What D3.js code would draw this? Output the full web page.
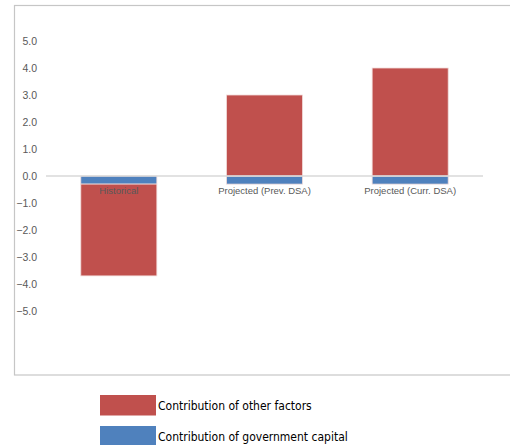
<!DOCTYPE html>
<html>
<head>
<meta charset="utf-8">
<script src="https://cdn.jsdelivr.net/npm/d3@7/dist/d3.min.js"></script>
<style>
  html, body { margin: 0; padding: 0; background: #fff; }
  svg { display: block; }
  text { font-family: "Liberation Sans Narrow", "Arial Narrow", "DejaVu Sans Condensed", sans-serif; }
</style>
</head>
<body>
<svg id="chart" width="510" height="445"></svg>
<script>
const categories = ["Historical", "Projected (Prev. DSA)", "Projected (Curr. DSA)"];
const seriesNames = ["Contribution of government capital", "Contribution of other factors"];
const govCapital = [-0.3, -0.3, -0.3];
const otherFactors = [-3.4, 3.0, 4.0];
const yTicks = [-5, -4, -3, -2, -1, 0, 1, 2, 3, 4, 5];
const colors = ["#4F81BD", "#C0504D"];

const svg = d3.select("#chart");

// frame
svg.append("rect")
  .attr("x", 14.5).attr("y", 5.5)
  .attr("width", 500).attr("height", 369.5)
  .attr("fill", "none").attr("stroke", "#c6c6c6").attr("stroke-width", 1.2);

const x = d3.scaleBand().domain(categories).range([46, 483])
  .paddingInner(0.478).paddingOuter(0.239);
const y = d3.scaleLinear().domain([-5, 5]).range([311, 41]);

const rows = categories.map((c, i) => ({ cat: c, gov: govCapital[i], other: otherFactors[i] }));
const stack = d3.stack().keys(["gov", "other"]).offset(d3.stackOffsetDiverging);
const stacked = stack(rows);

// y tick labels
const yAxis = d3.axisLeft(y).tickValues(yTicks).tickFormat(d3.format(".1f")).tickSize(0).tickPadding(0);
const gy = svg.append("g").attr("transform", "translate(37,0)").call(yAxis);
gy.select(".domain").remove();
gy.selectAll("text").attr("fill", "#595959").style("font-size", "10.5px")
  .style("font-family", "\"Liberation Sans Narrow\", \"Arial Narrow\", sans-serif");

// bars
svg.append("g").selectAll("g").data(stacked).join("g")
  .attr("fill", (d, i) => colors[i])
  .selectAll("rect").data(d => d).join("rect")
  .attr("x", d => x(d.data.cat))
  .attr("width", x.bandwidth())
  .attr("y", d => y(Math.max(d[0], d[1])))
  .attr("height", d => Math.abs(y(d[0]) - y(d[1])))
  .attr("stroke", "#f2dcdb").attr("stroke-width", 0.8);

// zero line
svg.append("line")
  .attr("x1", 46).attr("x2", 483)
  .attr("y1", y(0)).attr("y2", y(0))
  .attr("stroke", "#d9d9d9").attr("stroke-width", 1.5);

// category labels
const xAxis = d3.axisBottom(x).tickSize(0).tickPadding(0);
const gx = svg.append("g").attr("transform", `translate(0,${y(0) + 14.5})`).call(xAxis);
gx.select(".domain").remove();
gx.selectAll("text").attr("fill", "#595959").style("font-size", "9.5px")
  .attr("y", 0).attr("dy", "0.35em")
  .style("font-family", "\"Liberation Sans Narrow\", \"Arial Narrow\", sans-serif");

// legend
const legendOrder = [1, 0];
const lg = svg.append("g");
legendOrder.forEach((si, k) => {
  const yy = 395 + k * 31;
  lg.append("rect").attr("x", 100).attr("y", yy).attr("width", 56).attr("height", 20.5)
    .attr("fill", colors[si]);
  lg.append("text").attr("x", 158).attr("y", yy + 10.5).attr("dy", "0.35em")
    .attr("fill", "#000").style("font-size", "12px").text(seriesNames[si]);
});
</script>
</body>
</html>
